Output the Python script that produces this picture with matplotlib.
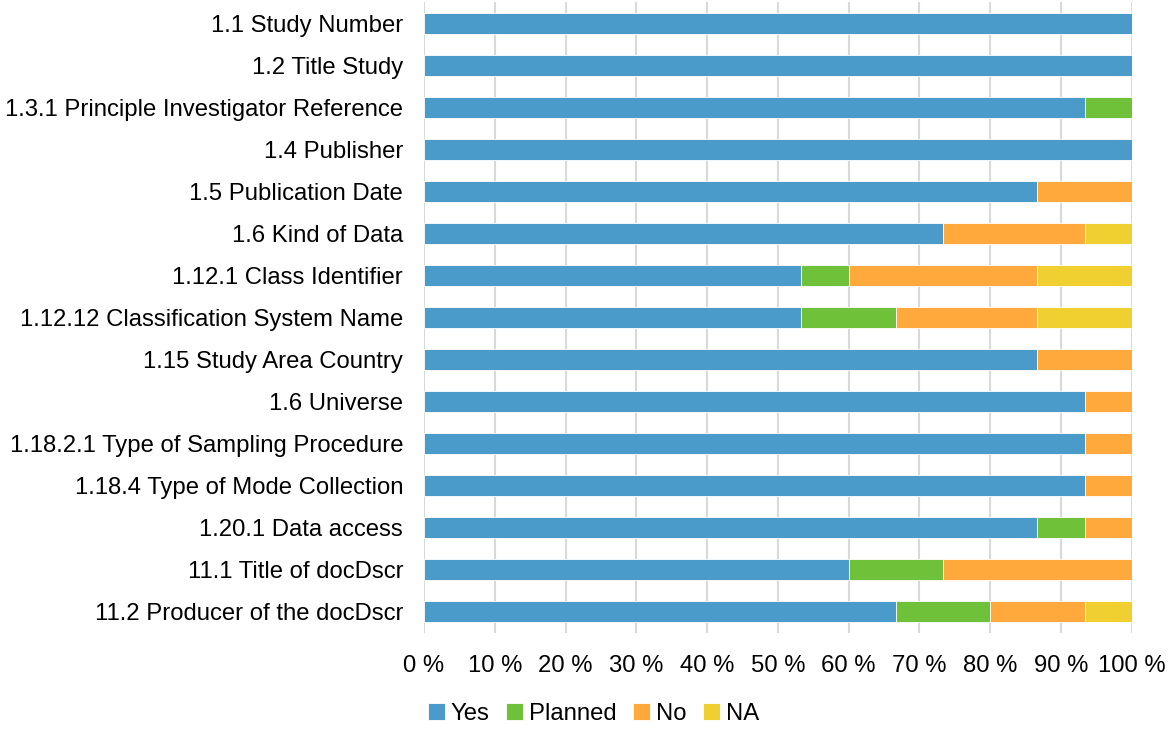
import numpy as np
import matplotlib.pyplot as plt

plt.rcParams['font.family'] = ['Liberation Sans', 'DejaVu Sans']

categories = [
    "1.1 Study Number",
    "1.2 Title Study",
    "1.3.1 Principle Investigator Reference",
    "1.4 Publisher",
    "1.5 Publication Date",
    "1.6 Kind of Data",
    "1.12.1 Class Identifier",
    "1.12.12 Classification System Name",
    "1.15 Study Area Country",
    "1.6 Universe",
    "1.18.2.1 Type of Sampling Procedure",
    "1.18.4 Type of Mode Collection",
    "1.20.1 Data access",
    "11.1 Title of docDscr",
    "11.2 Producer of the docDscr",
]

# counts out of 15 respondents
yes = [15, 15, 14, 15, 13, 11, 8, 8, 13, 14, 14, 14, 13, 9, 10]
planned = [0, 0, 1, 0, 0, 0, 1, 2, 0, 0, 0, 0, 1, 2, 2]
no = [0, 0, 0, 0, 2, 3, 4, 3, 2, 1, 1, 1, 1, 4, 2]
na = [0, 0, 0, 0, 0, 1, 2, 2, 0, 0, 0, 0, 0, 0, 1]

series = [("Yes", yes, "#4a9bc9"), ("Planned", planned, "#70c13a"),
          ("No", no, "#ffa83c"), ("NA", na, "#f0d030")]

total = np.array(yes) + np.array(planned) + np.array(no) + np.array(na)
y = np.arange(len(categories))

fs = 17.2

fig = plt.figure(figsize=(11.68, 7.29), dpi=100)
ax = fig.add_axes([0.363, 0.132, 0.606, 0.865])

left = np.zeros(len(categories))
for name, vals, col in series:
    pct = np.array(vals) / total * 100
    ax.barh(y, pct, left=left, height=0.5, color=col, label=name,
            edgecolor='white', linewidth=0.6, zorder=3)
    left += pct

ax.set_ylim(len(categories) - 0.5, -0.5)
ax.set_xlim(0, 100)
ax.set_yticks(y)
ax.set_yticklabels(categories, fontsize=fs)
ax.set_xticks(np.arange(0, 101, 10))
ax.set_xticklabels([f"{v} %" for v in range(0, 101, 10)], fontsize=fs)
ax.tick_params(axis='both', length=0)
ax.tick_params(axis='x', pad=16)
ax.tick_params(axis='y', pad=15)
ax.grid(axis='x', color='#d9d9d9', linewidth=1.5, zorder=0)
for s in ax.spines.values():
    s.set_visible(False)

fig.legend(loc='center', bbox_to_anchor=(0.508, 1 - 714 / 729), ncol=4, frameon=False,
           fontsize=fs, handlelength=0.7, handleheight=0.7, handletextpad=0.25,
           columnspacing=0.7, borderpad=0)

fig.savefig("out.png", dpi=100)
